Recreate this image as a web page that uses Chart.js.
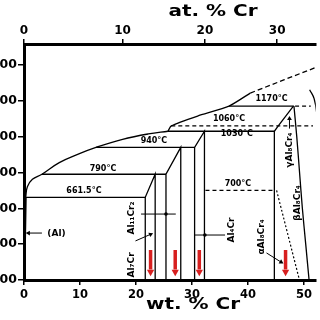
<!DOCTYPE html>
<html>
<head>
<meta charset="utf-8">
<title>Al-Cr phase diagram</title>
<script src="https://cdn.jsdelivr.net/npm/chart.js@4.4.0/dist/chart.umd.min.js"></script>
<style>
  html, body { margin: 0; padding: 0; background: #fff; overflow: hidden; }
  #chart { display: block; }
</style>
</head>
<body>
<canvas id="chart" width="320" height="320"></canvas>
<script>
/* ============================================================
   Al-rich side of the Al-Cr phase diagram
   all points are [wt.% Cr, temperature in °C]
============================================================ */

// axis ticks
const wtTicks = [0, 10, 20, 30, 40, 50];
const atTicks = [0, 10, 20, 30];
const atTickWt = [0, 17.6, 32.3, 45.2];   // where the at.% ticks sit on the wt.% scale
const tempTicks = [200, 400, 600, 800, 1000, 1200, 1400];

// liquidus
const liquidusLow = [[0.3, 661.5], [0.6, 720], [1.5, 762], [3.2, 790], [6.3, 855], [9.9, 905],
                     [12.85, 940], [17.6, 985], [22.2, 1015], [25.7, 1030]];
const liquidusMid = [[25.7, 1030], [26.3, 1060], [31, 1115], [36.6, 1170], [40.4, 1243]];
const liquidusHigh = [[40.4, 1243], [46.5, 1318], [53, 1397]];

// (Al) solvus
const alSolvus = [[0.4, 661.5], [0.3, 480], [0.2, 300], [0.12, 200]];

// horizontal invariant lines: [T, from wt, to wt]
const isotherms = [[661.5, 0.3, 21.65], [790, 3.2, 25.35], [940, 12.85, 30.46],
                   [1030, 25.7, 44.7], [1170, 36.6, 48.2]];
const dashedIsotherms = [[1060, 26.3, 51.6], [700, 32.4, 44.7], [1170, 48.4, 51.2]];

// intermetallic bands: [left wt, right wt, T at left top, T at right top]
const compounds = [[21.65, 23.42, 661.5, 790], [25.35, 27.99, 790, 940], [30.46, 32.22, 940, 1030]];

// Al8Cr4 region
const gammaLeft = [[44.7, 200], [44.7, 1030], [45.4, 1060], [48.1, 1170]];
const gammaRight = [[48.2, 1170], [48.7, 1000], [49.2, 800], [49.7, 600], [50.3, 400], [50.9, 200]];
const farRight = [[51.0, 1262], [51.8, 1212], [52.3, 1120], [52.5, 1000]];
const alphaBeta = [[45.1, 700], [49.1, 210]];

// red marker arrows (alloy compositions)
const arrowWt = [22.6, 27.0, 31.3, 46.7];

// leader lines for labels
const leaders = [
    [[3.2, 462], [0.8, 462]],
    [[20.9, 568], [27.1, 568]],
    [[19.9, 418], [22.6, 455]],
    [[30.5, 451], [35.9, 451]],
    [[43.3, 351], [45.9, 300]],
    [[47.4, 1045], [47.4, 1100]]
];
const leaderHeads = [[0.8, 462], [22.6, 455], [45.9, 300], [47.4, 1100]];
const leaderHeadRot = [270, 66, 121, 0];
const leaderDots = [[25.35, 568], [32.3, 451]];

// text: [text, wt, T]
const tempLabels = [
    ['661.5°C', 10.7, 697], ['790°C', 14.1, 819], ['940°C', 23.2, 976],
    ['1060°C', 36.6, 1098], ['1030°C', 38.0, 1015], ['700°C', 38.2, 736], ['1170°C', 44.2, 1210]
];
const phaseLabels = [
    ['(Al)', 5.8, 460, 0],
    ['Al₁₁Cr₂', 19.2, 546, -90],
    ['Al₇Cr', 19.2, 284, -90],
    ['Al₄Cr', 37.0, 479, -90],
    ['αAl₈Cr₄', 42.4, 440, -90],
    ['βAl₈Cr₄', 48.8, 630, -90],
    ['γAl₈Cr₄', 47.5, 925, -90]
];
const axisTitles = [['at. % Cr', 213, 12], ['wt. % Cr', 193, 305]];

/* -------------------------
   DATASET HELPERS
--------------------------*/
const toXY = (pts) => pts.map(([x, y]) => ({ x, y }));

function line(pts, extra) {
    return Object.assign({
        data: toXY(pts),
        showLine: true,
        borderColor: '#000',
        borderWidth: 1.3,
        pointRadius: 0,
        tension: 0,
        fill: false
    }, extra || {});
}

const datasets = [];
datasets.push(line(liquidusLow, { tension: 0.4 }));
datasets.push(line(liquidusMid, { tension: 0.2 }));
datasets.push(line(liquidusHigh, { borderDash: [5, 3] }));
datasets.push(line(alSolvus, { borderWidth: 1 }));

isotherms.forEach(([t, a, b]) => datasets.push(line([[a, t], [b, t]])));
dashedIsotherms.forEach(([t, a, b]) => datasets.push(line([[a, t], [b, t]], { borderDash: [4, 3] })));

compounds.forEach(([l, r, tl, tr]) => {
    datasets.push(line([[l, 200], [l, tl], [r, tr], [r, 200]]));
});

datasets.push(line(gammaLeft));
datasets.push(line(gammaRight, { tension: 0.3 }));
datasets.push(line(farRight, { tension: 0.4 }));
datasets.push(line(alphaBeta, { borderDash: [2, 2], borderWidth: 1.2 }));

leaders.forEach(seg => datasets.push(line(seg, { borderWidth: 1 })));
datasets.push({
    data: toXY(leaderHeads), showLine: false, pointStyle: 'triangle',
    pointRotation: leaderHeadRot, pointRadius: 2.8,
    backgroundColor: '#000', borderColor: '#000', borderWidth: 0
});
datasets.push({
    data: toXY(leaderDots), showLine: false, pointStyle: 'circle', pointRadius: 1.8,
    backgroundColor: '#000', borderColor: '#000', borderWidth: 0
});

// red arrows: shaft + head
arrowWt.forEach(w => datasets.push(line([[w, 367], [w, 258]], { borderColor: '#d71f1f', borderWidth: 3.5 })));
datasets.push({
    data: arrowWt.map(w => ({ x: w, y: 245 })), showLine: false, pointStyle: 'triangle',
    pointRotation: 180, pointRadius: 4.2,
    backgroundColor: '#d71f1f', borderColor: '#d71f1f', borderWidth: 0
});

/* -------------------------
   TEXT PLUGIN
--------------------------*/
const labelPlugin = {
    id: 'phaseLabels',
    afterDatasetsDraw(chart) {
        const { ctx, scales } = chart;
        const px = v => scales.x.getPixelForValue(v);
        const py = v => scales.y.getPixelForValue(v);
        ctx.save();
        ctx.fillStyle = '#000';
        ctx.textAlign = 'center';
        ctx.textBaseline = 'middle';

        ctx.font = 'bold 8px "DejaVu Sans"';
        tempLabels.forEach(([txt, w, t]) => ctx.fillText(txt, px(w), py(t)));

        ctx.font = 'bold 9px "DejaVu Sans"';
        phaseLabels.forEach(([txt, w, t, rot]) => {
            ctx.save();
            ctx.translate(px(w), py(t));
            ctx.rotate(rot * Math.PI / 180);
            ctx.fillText(txt, 0, 0);
            ctx.restore();
        });
        ctx.restore();
    },
    afterDraw(chart) {
        const ctx = chart.ctx;
        ctx.save();
        ctx.fillStyle = '#000';
        ctx.textAlign = 'center';
        ctx.textBaseline = 'middle';
        ctx.font = 'bold 16px "DejaVu Sans"';
        axisTitles.forEach(([txt, cx, cy]) => {
            ctx.save();
            ctx.translate(cx, cy);
            ctx.scale(1.25, 1);
            ctx.fillText(txt, 0, 0);
            ctx.restore();
        });
        ctx.restore();
    }
};

/* -------------------------
   CHART
--------------------------*/
const tickFont = (size) => ({ family: "'DejaVu Sans', sans-serif", size: size, weight: 'bold' });
const axisGrid = (len) => ({ drawOnChartArea: false, drawTicks: true, tickLength: len, color: '#000', lineWidth: 1.5 });
const axisBorder = { display: true, width: 3, color: '#000' };

new Chart(document.getElementById('chart'), {
    type: 'scatter',
    data: { datasets: datasets },
    options: {
        responsive: false,
        animation: false,
        events: [],
        devicePixelRatio: 1,
        layout: { padding: 0 },
        plugins: { legend: { display: false }, tooltip: { enabled: false } },
        scales: {
            x: {
                type: 'linear', position: 'bottom', min: 0, max: 52.1,
                afterBuildTicks: s => { s.ticks = wtTicks.map(v => ({ value: v })); },
                afterFit: s => { s.height = 40; },
                ticks: { font: tickFont(11.5), color: '#000', padding: 3, maxRotation: 0, autoSkip: false,
                         callback: v => String(v) },
                grid: axisGrid(5),
                border: axisBorder
            },
            x2: {
                type: 'linear', position: 'top', min: 0, max: 52.1,
                afterBuildTicks: s => { s.ticks = atTickWt.map(v => ({ value: v })); },
                afterFit: s => { s.height = 44; },
                ticks: { font: tickFont(12), color: '#000', padding: 1, maxRotation: 0, autoSkip: false,
                         callback: (v, i) => String(atTicks[i]) },
                grid: axisGrid(5),
                border: axisBorder
            },
            y: {
                type: 'linear', position: 'left', min: 200, max: 1517,
                afterBuildTicks: s => { s.ticks = tempTicks.map(v => ({ value: v })); },
                afterFit: s => { s.width = 24; },
                ticks: { font: tickFont(12.5), color: '#000', padding: 1, autoSkip: false,
                         callback: v => String(v) },
                grid: axisGrid(6),
                border: axisBorder
            }
        }
    },
    plugins: [labelPlugin]
});
</script>
</body>
</html>
